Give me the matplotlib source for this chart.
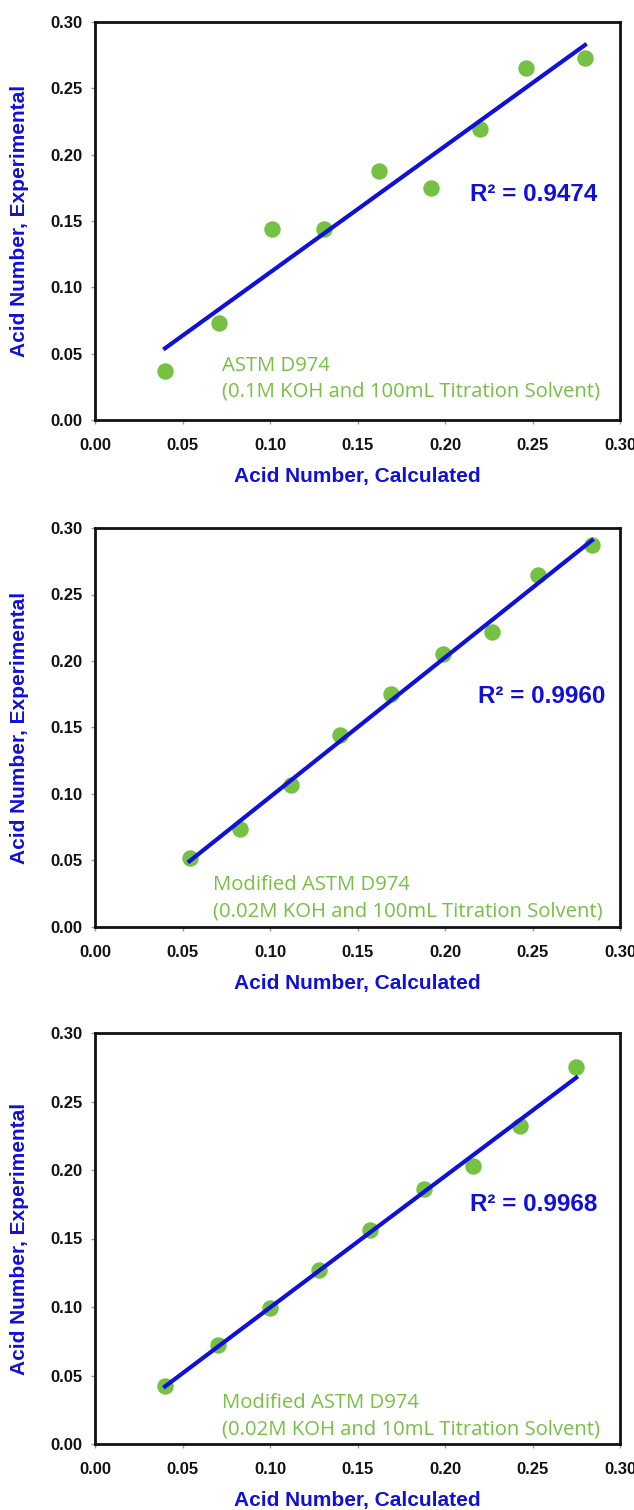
import numpy as np
import matplotlib
matplotlib.use("Agg")
import matplotlib.pyplot as plt

# ---- data ----
calc1 = [0.040, 0.071, 0.101, 0.131, 0.162, 0.192, 0.220, 0.246, 0.280]
exp1 = [0.037, 0.073, 0.144, 0.144, 0.188, 0.175, 0.219, 0.265, 0.273]
calc2 = [0.054, 0.083, 0.112, 0.140, 0.169, 0.199, 0.227, 0.253, 0.284]
exp2 = [0.052, 0.074, 0.107, 0.144, 0.175, 0.205, 0.222, 0.265, 0.287]
calc3 = [0.040, 0.070, 0.100, 0.128, 0.157, 0.188, 0.216, 0.243, 0.275]
exp3 = [0.042, 0.072, 0.099, 0.127, 0.156, 0.186, 0.203, 0.232, 0.275]
r2_labels = ["R\u00b2 = 0.9474", "R\u00b2 = 0.9960", "R\u00b2 = 0.9968"]
method_labels = [
    "ASTM D974\n(0.1M KOH and 100mL Titration Solvent)",
    "Modified ASTM D974\n(0.02M KOH and 100mL Titration Solvent)",
    "Modified ASTM D974\n(0.02M KOH and 10mL Titration Solvent)",
]
ticks = [0.00, 0.05, 0.10, 0.15, 0.20, 0.25, 0.30]
xlabel = "Acid Number, Calculated"
ylabel = "Acid Number, Experimental"

datasets = [(calc1, exp1), (calc2, exp2), (calc3, exp3)]

# ---- layout ----
W, H = 634, 1510
fig = plt.figure(figsize=(W / 100, H / 100), dpi=100)
boxes = [(95, 22, 620, 420), (95, 528, 620, 927), (95, 1033, 620, 1444)]
r2_pos = [(0.214, 0.170), (0.219, 0.173), (0.214, 0.1745)]
meth_pos = [(0.0726, 0.031), (0.0674, 0.0218), (0.0726, 0.0204)]

green = "#76C043"
blue = "#1010D8"
tfont = "Liberation Sans"

for i, ((x, y), (l, t, r, b)) in enumerate(zip(datasets, boxes)):
    ax = fig.add_axes([l / W, 1 - b / H, (r - l) / W, (b - t) / H])
    x = np.array(x); y = np.array(y)
    ax.scatter(x, y, s=140, color=green, zorder=2, linewidths=0)
    m, c = np.polyfit(x, y, 1)
    xs = np.array([x.min(), x.max()])
    ax.plot(xs, m * xs + c, color=blue, lw=3, zorder=3)
    ax.set_xlim(0, 0.30)
    ax.set_ylim(0, 0.30)
    ax.set_xticks(ticks)
    ax.set_yticks(ticks)
    ax.set_xticklabels([f"{v:.2f}" for v in ticks], fontfamily=tfont,
                       fontweight="bold", fontsize=12)
    ax.set_yticklabels([f"{v:.2f}" for v in ticks], fontfamily=tfont,
                       fontweight="bold", fontsize=12)
    ax.tick_params(direction="out", length=3, width=1, colors="#999999",
                   labelcolor="#111111")
    ax.tick_params(axis="x", pad=10)
    ax.tick_params(axis="y", pad=6)
    for s in ax.spines.values():
        s.set_linewidth(2)
        s.set_color("#111111")
    ax.set_xlabel(xlabel, fontfamily=tfont, fontweight="bold", fontsize=15,
                  color=blue, labelpad=10)
    ax.set_ylabel(ylabel, fontfamily=tfont, fontweight="bold", fontsize=15,
                  color=blue, labelpad=15)
    ax.text(r2_pos[i][0], r2_pos[i][1], r2_labels[i], fontfamily=tfont,
            fontweight="bold", fontsize=17.5, color=blue, va="center", ha="left")
    ax.text(meth_pos[i][0], meth_pos[i][1], method_labels[i],
            fontfamily="Open Sans", fontsize=14.6, color=green, va="center",
            ha="left", linespacing=1.4)

fig.savefig("out.png", dpi=100)
